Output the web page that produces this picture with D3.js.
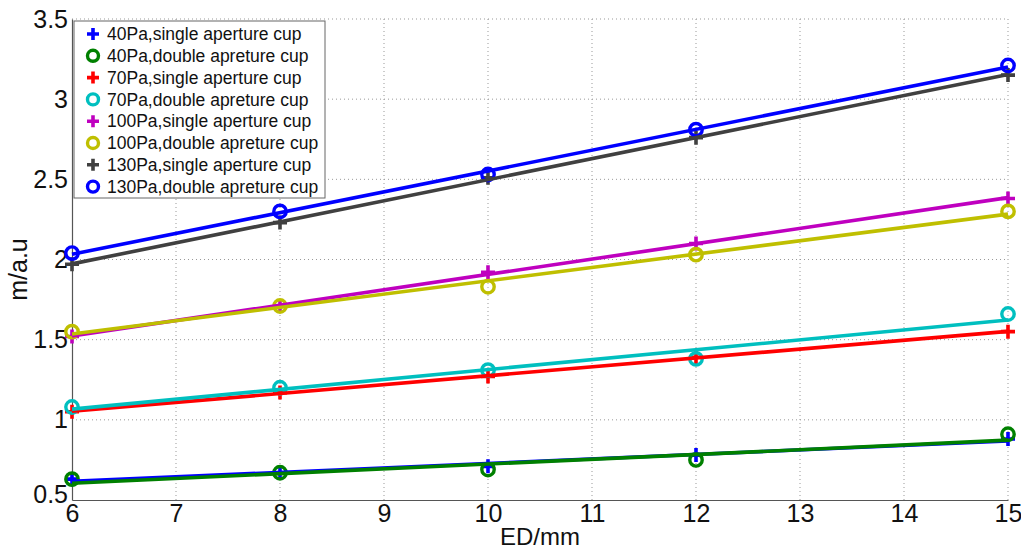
<!DOCTYPE html>
<html>
<head>
<meta charset="utf-8">
<script src="https://cdn.jsdelivr.net/npm/d3@7"></script>
<style>
  html, body { margin: 0; padding: 0; background: #fff; }
  svg { display: block; font-family: "Liberation Sans", Arial, sans-serif; }
</style>
</head>
<body>
<svg id="chart" width="1021" height="551"></svg>
<script>
// Electrode distance (mm) at which each measurement was taken
const ed = [6, 8, 10, 12, 15];

// Measured m/a.u values per pressure and cup type
const pa40Single  = [0.63, 0.67, 0.71, 0.78, 0.88];
const pa40Double  = [0.63, 0.67, 0.69, 0.75, 0.91];
const pa70Single  = [1.05, 1.17, 1.27, 1.39, 1.55];
const pa70Double  = [1.08, 1.20, 1.31, 1.38, 1.66];
const pa100Single = [1.52, 1.71, 1.92, 2.10, 2.38];
const pa100Double = [1.55, 1.71, 1.83, 2.03, 2.30];
const pa130Single = [1.97, 2.23, 2.51, 2.76, 3.15];
const pa130Double = [2.04, 2.30, 2.53, 2.81, 3.21];

const seriesNames = [
  "40Pa,single aperture cup",
  "40Pa,double apreture cup",
  "70Pa,single aperture cup",
  "70Pa,double apreture cup",
  "100Pa,single aperture cup",
  "100Pa,double apreture cup",
  "130Pa,single aperture cup",
  "130Pa,double apreture cup"
];
const seriesValues = [pa40Single, pa40Double, pa70Single, pa70Double,
                      pa100Single, pa100Double, pa130Single, pa130Double];
const seriesColors = ["#0000ff", "#008000", "#ff0000", "#00bfbf",
                      "#bf00bf", "#bfbf00", "#404040", "#0000ff"];
const seriesMarkers = ["plus", "circle", "plus", "circle",
                       "plus", "circle", "plus", "circle"];

const xTicks = [6, 7, 8, 9, 10, 11, 12, 13, 14, 15];
const yTicks = [0.5, 1, 1.5, 2, 2.5, 3, 3.5];

const svg = d3.select("#chart");
const plotLeft = 72, plotRight = 1008, plotTop = 19, plotBottom = 500;

const x = d3.scaleLinear().domain([6, 15]).range([plotLeft, plotRight]);
const y = d3.scaleLinear().domain([0.5, 3.5]).range([plotBottom, plotTop]);

// Dotted grid
const grid = svg.append("g");
grid.selectAll("line.vx").data(xTicks.slice(1)).join("line")
  .attr("x1", d => x(d)).attr("x2", d => x(d))
  .attr("y1", plotTop).attr("y2", plotBottom)
  .attr("stroke", "#999").attr("stroke-width", 1).attr("stroke-dasharray", "1,3");
grid.selectAll("line.hy").data(yTicks.slice(1)).join("line")
  .attr("x1", plotLeft).attr("x2", plotRight)
  .attr("y1", d => y(d)).attr("y2", d => y(d))
  .attr("stroke", "#999").attr("stroke-width", 1).attr("stroke-dasharray", "1,3");

// Axes
const xAxis = d3.axisBottom(x).tickValues(xTicks).tickSize(0).tickPadding(6).tickFormat(d3.format("d"));
const yAxis = d3.axisLeft(y).tickValues(yTicks).tickSize(0).tickPadding(4).tickFormat(d => String(d));

const gx = svg.append("g").attr("transform", `translate(0,${plotBottom})`).call(xAxis);
const gy = svg.append("g").attr("transform", `translate(${plotLeft},0)`).call(yAxis);
[gx, gy].forEach(g => {
  g.select(".domain").attr("stroke", "#555").attr("stroke-width", 1.2);
  g.selectAll("text").attr("fill", "#111").attr("font-size", 25)
    .attr("font-family", "'Liberation Sans', Arial, sans-serif");
});
gx.selectAll("text").attr("dy", "0.62em");
// lift the lowest y label slightly so it clears the first x label
gy.selectAll(".tick").filter(d => d === 0.5).select("text").attr("dy", "0.1em");

// Axis titles
svg.append("text").attr("x", (plotLeft + plotRight) / 2).attr("y", 545)
  .attr("text-anchor", "middle").attr("font-size", 24).attr("fill", "#111")
  .text("ED/mm");
svg.append("text")
  .attr("transform", `translate(27,${(plotTop + plotBottom) / 2 + 10}) rotate(-90)`)
  .attr("text-anchor", "middle").attr("font-size", 25).attr("fill", "#111")
  .text("m/a.u");

// Least-squares line through each series
function fit(xs, ys) {
  const mx = d3.mean(xs), my = d3.mean(ys);
  const sxy = d3.sum(xs, (v, i) => (v - mx) * (ys[i] - my));
  const sxx = d3.sum(xs, v => (v - mx) * (v - mx));
  const b = sxy / sxx;
  return v => my + b * (v - mx);
}

function drawMarker(g, kind, cx, cy, color, size) {
  if (kind === "plus") {
    g.append("path")
      .attr("d", `M${cx - size},${cy}H${cx + size}M${cx},${cy - size}V${cy + size}`)
      .attr("stroke", color).attr("stroke-width", 3.6).attr("fill", "none");
  } else {
    g.append("circle").attr("cx", cx).attr("cy", cy).attr("r", size)
      .attr("stroke", color).attr("stroke-width", 3.4).attr("fill", "none");
  }
}

// Markers first, then the fitted lines on top
const marks = svg.append("g");
seriesValues.forEach((vals, i) => {
  ed.forEach((e, j) => {
    drawMarker(marks, seriesMarkers[i], x(e), y(vals[j]), seriesColors[i],
               seriesMarkers[i] === "plus" ? 7 : 6.2);
  });
});
const lines = svg.append("g");
seriesValues.forEach((vals, i) => {
  const f = fit(ed, vals);
  lines.append("line")
    .attr("x1", x(6)).attr("y1", y(f(6)))
    .attr("x2", x(15)).attr("y2", y(f(15)))
    .attr("stroke", seriesColors[i]).attr("stroke-width", 3.6);
});

// Legend
const lg = svg.append("g");
lg.append("rect").attr("x", 74).attr("y", 21).attr("width", 251).attr("height", 177)
  .attr("fill", "#fff").attr("stroke", "#666").attr("stroke-width", 1);
seriesNames.forEach((name, i) => {
  const ry = 34 + i * 21.8;
  drawMarker(lg, seriesMarkers[i], 93, ry, seriesColors[i], seriesMarkers[i] === "plus" ? 6 : 5.5);
  lg.append("text").attr("x", 107).attr("y", ry).attr("dy", "0.35em")
    .attr("font-size", 17.5).attr("fill", "#111").text(name);
});
</script>
</body>
</html>
